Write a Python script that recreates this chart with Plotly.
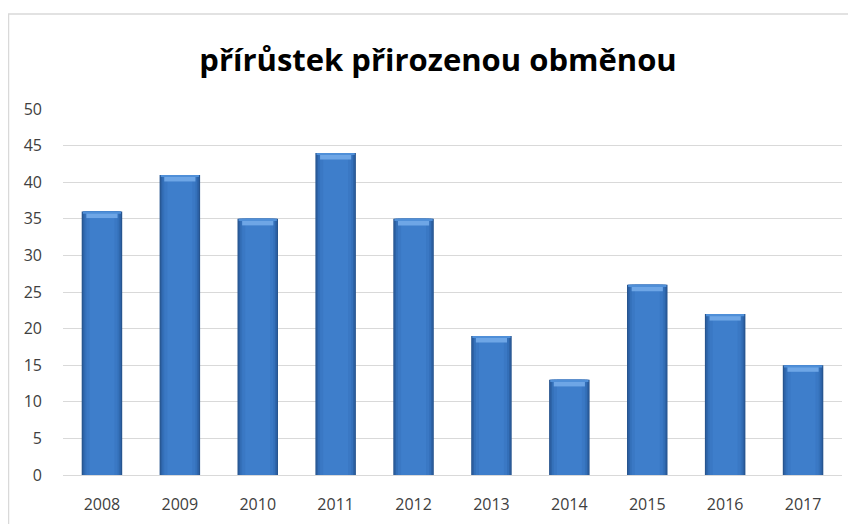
import plotly.graph_objects as go

years = ["2008", "2009", "2010", "2011", "2012", "2013", "2014", "2015", "2016", "2017"]
values = [36, 41, 35, 44, 35, 19, 13, 26, 22, 15]
y_ticks = [0, 5, 10, 15, 20, 25, 30, 35, 40, 45, 50]

# the page adds an 8px body margin, so the figure is drawn 8px in from the window edge
W, H = 848, 516
ml, mr, mt, mb = 55, 14, 101, 49
pw, ph = W - ml - mr, H - mt - mb

fig = go.Figure()
# layered bars to imitate Excel's bevelled gradient
layers = [(0.52, "#27558f"), (0.49, "#2d62a6"), (0.45, "#3470b9"), (0.40, "#3a78c4"), (0.32, "#3e7ecb")]
for i, (wd, col) in enumerate(layers):
    fig.add_trace(go.Bar(x=years, y=values, width=wd, marker=dict(color=col, line=dict(width=0)),
                         hoverinfo="skip" if i else None, showlegend=False))
# top highlight band
fig.add_trace(go.Bar(x=years, y=[0.7] * len(values), base=[v - 0.9 for v in values], width=0.40,
                     marker=dict(color="#6ea6e6", line=dict(width=0)), hoverinfo="skip", showlegend=False))
fig.add_trace(go.Bar(x=years, y=[0.3] * len(values), base=[v - 0.3 for v in values], width=0.49,
                     marker=dict(color="#4f8fd8", line=dict(width=0)), hoverinfo="skip", showlegend=False))

fig.update_layout(
    width=W, height=H,
    margin=dict(l=ml, r=mr, t=mt, b=mb, pad=0, autoexpand=False),
    barmode="overlay",
    paper_bgcolor="white", plot_bgcolor="white",
    title=dict(text="<b>přírůstek přirozenou obměnou</b>", x=(438 - 8) / W, xanchor="center",
               y=1 - 52 / H, yanchor="middle",
               font=dict(family="Open Sans, Calibri, sans-serif", size=31, color="#000000")),
    font=dict(family="Open Sans, Calibri, sans-serif", size=16, color="#404040"),
    xaxis=dict(showgrid=False, showline=False, ticks="", ticklabelstandoff=18, automargin=False,
               tickfont=dict(size=16, color="#404040")),
    yaxis=dict(range=[0, 50], tickvals=y_ticks, showgrid=True, gridcolor="#d9d9d9", gridwidth=1.3,
               zeroline=True, zerolinecolor="#d9d9d9", zerolinewidth=1.3, showline=False, ticks="",
               automargin=False, ticklabelstandoff=20, tickfont=dict(size=16, color="#404040")),
    shapes=[
        dict(type="rect", xref="paper", yref="paper",
             x0=(0.5 - ml) / pw, x1=(W + 20 - ml) / pw,
             y0=-(H + 20 - (H - mb)) / ph, y1=(H - mb - 6) / ph,
             line=dict(color="#d9d9d9", width=1.5), layer="below"),
    ],
)

fig.write_html("out.html")
